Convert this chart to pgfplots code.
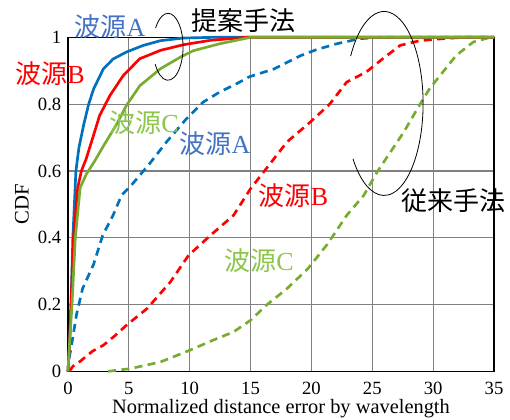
\documentclass[border=0pt]{standalone}
\usepackage{pgfplots}
\pgfplotsset{compat=1.18}
\usepackage{fontspec}
\setmainfont{Liberation Serif}
\newfontfamily\jp{Noto Sans CJK JP}
\usetikzlibrary{calc}

\definecolor{mblue}{RGB}{0,114,189}
\definecolor{mred}{RGB}{255,0,0}
\definecolor{mgreen}{RGB}{119,172,48}
\definecolor{lblue}{RGB}{68,114,196}
\definecolor{lgreen}{RGB}{140,198,75}

\newcommand{\src}[1]{{\jp 波源}#1}

\begin{document}
\begin{tikzpicture}
\begin{axis}[
  scale only axis, width=319.5pt, height=250.5pt,
  xmin=0, xmax=35, ymin=0, ymax=1,
  xtick={0,5,...,35}, ytick={0,0.2,0.4,0.6,0.8,1},
  xticklabels={0,5,10,15,20,25,30,35},
  yticklabels={0,0.2,0.4,0.6,0.8,1},
  grid=major, major grid style={black!50, line width=0.9pt},
  axis line style={black, line width=0.8pt},
  tick style={draw=none},
  tick label style={font=\fontsize{14}{16}\selectfont},
  xticklabel style={anchor=base, yshift=-17.3pt, inner sep=0pt},
  yticklabel style={anchor=east, xshift=-1.5pt},
  xlabel={Normalized distance error by wavelength},
  ylabel={CDF},
  every axis x label/.style={at={(axis description cs:0.5,-0.1265)}, anchor=base,
    inner sep=0pt, font=\fontsize{15.3}{18}\selectfont},
  every axis y label/.style={at={(axis description cs:-0.108,0.5)}, rotate=90, anchor=center,
    font=\fontsize{15.5}{18}\selectfont},
  clip=false,
]
\coordinate (bl) at (rel axis cs:0,0);
\coordinate (tr) at (rel axis cs:1,1);

% conventional method (dashed)
\addplot[mblue, line width=2pt, dash pattern=on 6pt off 4pt] coordinates {
(0,0) (0.05,0.03) (0.3,0.08) (0.7,0.17) (1.2,0.248) (2.1,0.32) (2.85,0.407)
(3.7,0.467) (4.4,0.527) (5.2,0.557) (6.2,0.6) (6.6,0.617) (8.1,0.687)
(9.75,0.757) (11.1,0.806) (12.5,0.837) (13.9,0.862) (14.9,0.882) (16.9,0.905)
(19.1,0.945) (20.4,0.963) (22.1,0.981) (24,0.996) (25.6,1) (35,1)};
\addplot[mred, line width=2pt, dash pattern=on 6pt off 4pt] coordinates {
(0.1,0) (0.4,0.015) (1.0,0.03) (2.0,0.06) (2.9,0.078) (3.9,0.108) (4.8,0.138)
(6.5,0.188) (8.4,0.267) (9.9,0.347) (11.7,0.407) (13.6,0.467) (15,0.547)
(16.4,0.612) (18,0.687) (19.9,0.746) (21.5,0.8) (22.9,0.866) (24.5,0.896)
(25.9,0.937) (27.3,0.976) (28.9,0.99) (30.8,0.996) (32.5,1) (35,1)};
\addplot[mgreen, line width=2pt, dash pattern=on 6pt off 4pt] coordinates {
(3.3,0) (5.1,0.008) (7.6,0.028) (10,0.063) (11.9,0.093) (13.6,0.118)
(15,0.153) (16.3,0.198) (18,0.248) (19.7,0.307) (21.3,0.38) (22.9,0.467)
(24.3,0.527) (25.4,0.597) (26.5,0.657) (27.6,0.717) (28.7,0.786)
(29.7,0.846) (30.8,0.896) (31.9,0.946) (33.3,0.986) (34.7,1) (35,1)};

% proposed method (solid)
\addplot[mblue, line width=2pt] coordinates {
(0,0) (0.1,0.06) (0.25,0.2) (0.4,0.4) (0.65,0.6) (0.9,0.67) (1.3,0.74)
(1.7,0.8) (2.1,0.845) (2.9,0.905) (3.7,0.935) (4.8,0.956) (6.2,0.976)
(7.6,0.99) (9.5,0.998) (12,1) (35,1)};
\addplot[mred, line width=2pt] coordinates {
(0,0) (0.15,0.1) (0.25,0.2) (0.45,0.4) (0.8,0.55) (1.1,0.6) (1.5,0.637)
(2.1,0.707) (2.6,0.766) (3.45,0.826) (4.55,0.886) (5.9,0.936) (7.6,0.961)
(9.5,0.978) (11.7,0.991) (14.7,1) (35,1)};
\addplot[mgreen, line width=2pt] coordinates {
(0,0) (0.15,0.1) (0.33,0.2) (0.6,0.4) (1.0,0.55) (1.5,0.59) (2.2,0.63)
(3.0,0.68) (4.0,0.74) (4.8,0.796) (5.9,0.855) (7.6,0.906) (9.2,0.94)
(10.3,0.96) (12.5,0.981) (15,1) (35,1)};

% annotations
\draw[line width=0.6pt] (axis cs:8.22,0.9716) ++(146:11.25pt and 25.1pt)
  arc[start angle=146, end angle=-149, x radius=11.25pt, y radius=25.1pt];
\draw[line width=0.6pt] (axis cs:25.97,0.802) ++(149:29.25pt and 69pt)
  arc[start angle=149, end angle=-143, x radius=29.25pt, y radius=69pt];

\begin{scope}[every node/.style={font=\fontsize{19.5}{22}\selectfont, inner sep=0pt}]
\node[text=lblue] at (axis cs:3.45,1.033) {\src{A}};
\node[text=black] at (axis cs:14.38,1.051) {\jp 提案手法};
\node[text=mred] at (axis cs:-1.48,0.892) {\src{B}};
\node[text=lgreen] at (axis cs:6.25,0.744) {\src{C}};
\node[text=lblue] at (axis cs:12.08,0.681) {\src{A}};
\node[text=mred] at (axis cs:18.53,0.527) {\src{B}};
\node[text=black] at (axis cs:31.64,0.510) {\jp 従来手法};
\node[text=lgreen] at (axis cs:15.69,0.331) {\src{C}};
\end{scope}
\end{axis}
\pgfresetboundingbox
\path ($(bl)+(-51pt,-36.5pt)$) rectangle ($(tr)+(12pt,28pt)$);
\end{tikzpicture}
\end{document}
